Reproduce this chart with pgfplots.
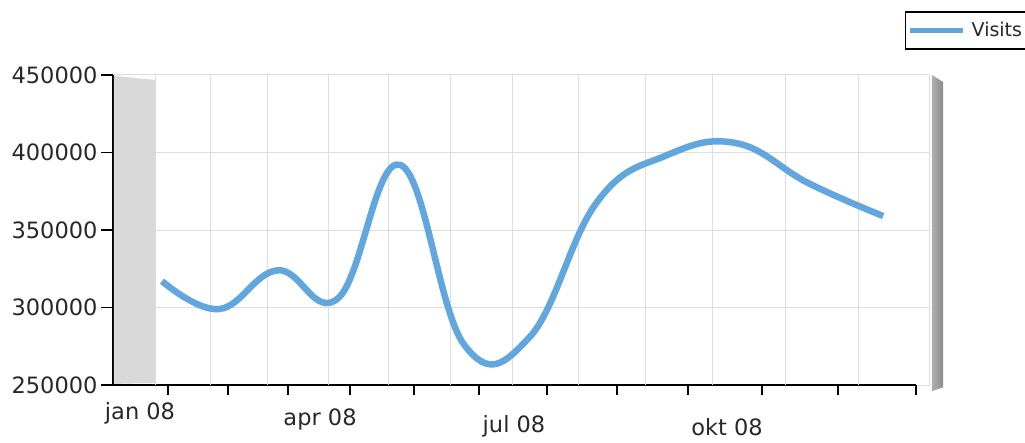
\documentclass[border=0pt]{standalone}
\usepackage{fontspec}
\setmainfont{DejaVu Sans}
\usepackage{pgfplots}
\pgfplotsset{compat=1.18}
\definecolor{visits}{RGB}{98,166,222}
\definecolor{gridc}{RGB}{221,221,221}
\definecolor{wallc}{RGB}{217,217,217}
\definecolor{shadowc}{RGB}{175,175,175}
\definecolor{txt}{RGB}{40,40,40}
\begin{document}
\begin{tikzpicture}[x=1pt,y=1pt]
\useasboundingbox (0,0) rectangle (1025,442);
\begin{axis}[
  at={(113pt,57pt)}, anchor=south west,
  scale only axis, width=817pt, height=310pt,
  x coord trafo/.code={\pgfmathparse{#1+0.015227*(#1)*(#1)}},
  xmin=-0.885, xmax=11.621, ymin=250000, ymax=450000,
  clip=false,
  axis x line*=bottom, axis y line*=left,
  axis line style={black, line width=1.4pt},
  x axis line style={shorten >=14pt},
  /pgf/number format/assume math mode=true,
  scaled y ticks=false,
  tick align=outside,
  major tick length=12pt, minor tick length=10pt,
  ytick={250000,300000,350000,400000,450000},
  yticklabels={250000,300000,350000,400000,450000},
  ymajorgrids,
  major grid style={gridc, line width=1pt},
  major y tick style={black, line width=1.2pt},
  major x tick style={draw=none},
  minor x tick style={black, line width=1.2pt},
  xtick={-0.394,2.703,5.763,8.866},
  xticklabels={\raisebox{-2pt}[\height][0pt]{jan 08},
    \raisebox{-8pt}[\height][0pt]{apr 08},
    \raisebox{-15pt}[\height][0pt]{jul 08},
    \raisebox{-18pt}[\height][0pt]{okt 08}},
  minor xtick={0.106,1.155,2.172,3.193,4.217,5.229,6.260,7.294,8.315,9.353,10.394,11.436},
  extra x ticks={-0.125,0.844,1.836,2.834,3.805,4.781,5.733,6.721,7.699,8.668,9.671,10.664,11.62},
  extra x tick labels={},
  extra x tick style={grid=major},
  ticklabel style={font=\fontsize{22.5}{22.5}\selectfont, text=txt},
  legend style={at={(0.969,1.206)}, anchor=north west, draw=black,
    line width=1.5pt, font=\fontsize{19}{19}\selectfont, text=txt,
    inner xsep=2.5pt, inner ysep=8.5pt},
  legend image code/.code={\draw[visits, line width=5pt] (0pt,0pt) -- (53pt,0pt); \path (56pt,0pt);},
]
\fill[wallc] (axis cs:-0.867,449500) -- (axis cs:-0.125,446800) -- (axis cs:-0.125,251300) -- (axis cs:-0.867,250700) -- cycle;
\shade[left color=shadowc, right color=shadowc!80!black] (axis cs:11.647,450000) -- (axis cs:11.792,445500) -- (axis cs:11.792,248500) -- (axis cs:11.647,246000) -- cycle;
\addplot[visits, line width=6.5pt, smooth, tension=0.7] coordinates {
  (0,317000) (1,299000) (2,324000) (3,306000) (4,392000) (5,276000)
  (6,281000) (7,368000) (8,398000) (9,406000) (10,380000) (11,359000)};
\addlegendentry{Visits}
\end{axis}
\end{tikzpicture}
\end{document}
